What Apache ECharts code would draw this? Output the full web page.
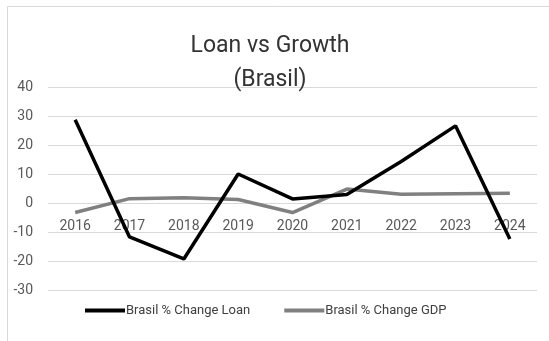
<!DOCTYPE html>
<html>
<head>
<meta charset="utf-8">
<script src="https://cdn.jsdelivr.net/npm/echarts@6/dist/echarts.min.js"></script>
<style>
  html, body { margin: 0; padding: 0; background: #ffffff; }
  #chart { width: 549px; height: 341px; }
</style>
</head>
<body>
<div id="chart"></div>
<script>
// Years on the category axis
const years = ['2016', '2017', '2018', '2019', '2020', '2021', '2022', '2023', '2024'];
// Year-over-year % change in credit (loans), Brazil
const loanChange = [28.7, -11.7, -19.3, 10.0, 1.4, 2.9, 14.3, 26.6, -12.4];
// Year-over-year % change in GDP, Brazil
const gdpChange = [-3.3, 1.5, 1.8, 1.2, -3.3, 4.8, 3.0, 3.2, 3.4];
// Value axis range and step
const yMin = -30, yMax = 40, yStep = 10;

const font = 'Roboto, "Liberation Sans", sans-serif';
const chart = echarts.init(document.getElementById('chart'), null, { renderer: 'canvas' });

chart.setOption({
  animation: false,
  backgroundColor: '#ffffff',
  graphic: [{
    type: 'rect',
    shape: { x: 7.5, y: 6.5, width: 600, height: 400 },
    style: { fill: 'none', stroke: '#d9d9d9', lineWidth: 1 },
    z: -1
  }],
  title: {
    text: 'Loan vs Growth\n(Brasil)',
    left: 265,
    textAlign: 'center',
    top: 24,
    textStyle: {
      fontFamily: font,
      fontSize: 23,
      fontWeight: 'normal',
      color: '#333333',
      lineHeight: 34
    }
  },
  legend: {
    bottom: 19,
    left: 80,
    itemGap: 34,
    itemWidth: 40,
    itemHeight: 4,
    icon: 'rect',
    textStyle: { fontFamily: font, fontSize: 13, color: '#404040', padding: [0, 0, 0, -4] },
    data: ['Brasil % Change Loan', 'Brasil % Change GDP']
  },
  grid: { left: 48, right: 12, top: 87, bottom: 51, containLabel: false },
  xAxis: {
    type: 'category',
    data: years,
    boundaryGap: true,
    position: 'bottom',
    axisLine: { show: false, onZero: false },
    axisTick: { show: false },
    // year labels sit just under the zero line, inside the plot
    axisLabel: { fontFamily: font, fontSize: 14, color: '#595959', margin: -71 }
  },
  yAxis: {
    type: 'value',
    min: yMin,
    max: yMax,
    interval: yStep,
    axisLine: { show: false },
    axisTick: { show: false },
    splitLine: { lineStyle: { color: '#d9d9d9', width: 1 } },
    axisLabel: { fontFamily: font, fontSize: 14, color: '#595959', margin: 15 }
  },
  series: [
    {
      name: 'Brasil % Change Loan',
      type: 'line',
      data: loanChange,
      symbol: 'none',
      lineStyle: { color: '#000000', width: 3.5 },
      itemStyle: { color: '#000000' },
      z: 3
    },
    {
      name: 'Brasil % Change GDP',
      type: 'line',
      data: gdpChange,
      symbol: 'none',
      lineStyle: { color: '#808080', width: 3.5 },
      itemStyle: { color: '#808080' },
      z: 2
    }
  ]
});
</script>
</body>
</html>
